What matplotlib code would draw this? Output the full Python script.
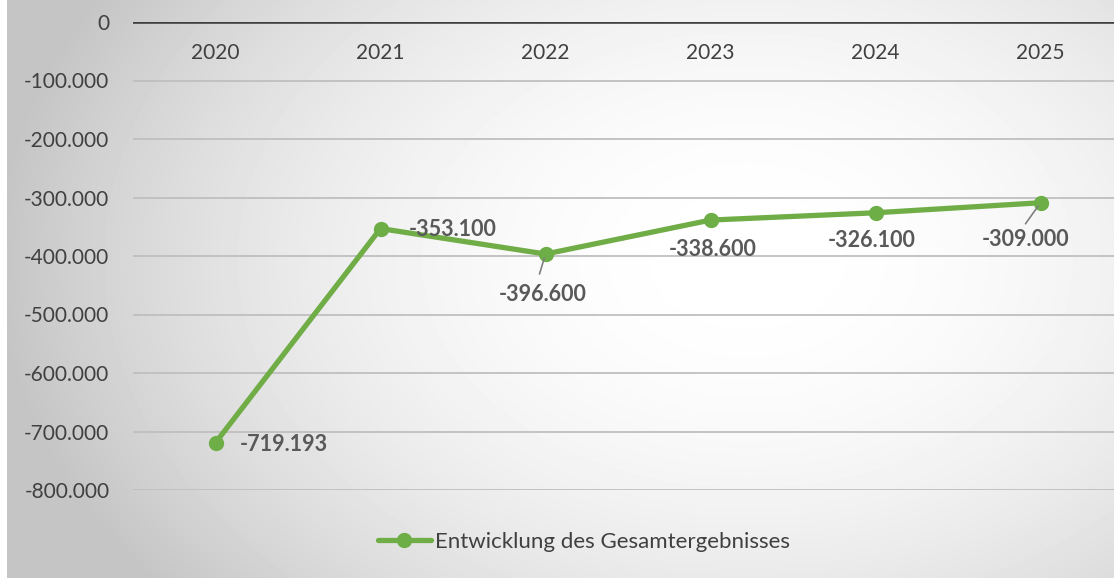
import numpy as np
import matplotlib
matplotlib.use("Agg")
import matplotlib.pyplot as plt
import matplotlib.transforms as mtransforms

# data
years = ["2020", "2021", "2022", "2023", "2024", "2025"]
values = [-719193, -353100, -396600, -338600, -326100, -309000]
y_ticks = [0, -100000, -200000, -300000, -400000, -500000, -600000, -700000, -800000]
series_name = "Entwicklung des Gesamtergebnisses"

# label placement per point: (dx px, dy px, ha, leader end px or None)
label_pos = [
    (24, -2, "left", None),
    (28, -1, "left", None),
    (-3, -40, "center", (-6, -20)),
    (2, -29, "center", None),
    (-4, -28, "center", None),
    (-15, -37, "center", (-15, -21)),
]

def de_fmt(v):
    s = f"{abs(v):,.0f}".replace(",", ".")
    return ("-" if v < 0 else "") + s

green = "#70AD47"
text_col = "#404040"
lbl_col = "#595959"
plt.rcParams["font.family"] = ["Lato", "DejaVu Sans"]
px = 0.72  # points per pixel at dpi 100

fig = plt.figure(figsize=(11.14, 5.79), dpi=100)
fig.patch.set_facecolor("white")

# radial grey background
bg = fig.add_axes([7 / 1114, 1 / 579, 1 - 7 / 1114, 578 / 579])
bg.set_axis_off()
yy, xx = np.mgrid[0:578, 0:1107]
r = np.sqrt(((xx - 740) / 800.0) ** 2 + ((yy - 260) / 560.0) ** 2)
shade = np.clip(1.0 - 0.26 * r ** 2.0, 0.77, 1.0)
bg.imshow(shade, cmap="gray", vmin=0, vmax=1, aspect="auto", interpolation="bilinear")

ax = fig.add_axes([133 / 1114, 89 / 579, 990 / 1114, 468 / 579])
ax.patch.set_alpha(0)
x = np.arange(len(years))
ax.set_xlim(-0.5, len(years) - 0.5)
ax.set_ylim(-800000, 0)

for t in y_ticks:
    if t == 0:
        ax.axhline(t, color="#404040", lw=2.6, zorder=2)
    else:
        ax.axhline(t, color="#BFBFBF", lw=1.3, zorder=1)

ax.plot(x, values, color=green, lw=3.8, marker="o", markersize=10,
        markerfacecolor="#6DAE47", markeredgecolor="#6DAE47", zorder=3,
        label=series_name, solid_capstyle="round")

for s in ax.spines.values():
    s.set_visible(False)
ax.set_xticks([])
ax.set_yticks(y_ticks)
ax.set_yticklabels([de_fmt(t) for t in y_ticks], fontsize=15, color=text_col)
ax.tick_params(axis="y", length=0, pad=17)

# category labels just below the zero line
trans = mtransforms.blended_transform_factory(ax.transData, ax.transAxes)
for i, yr in enumerate(years):
    ax.text(i, 1 - 31 / 468, yr, transform=trans, ha="center", va="center",
            fontsize=15, color=text_col)

# data labels
for i, v in enumerate(values):
    dx, dy, ha, leader = label_pos[i]
    ax.annotate(de_fmt(v), (i, v), xytext=(dx * px, dy * px),
                textcoords="offset points", ha=ha, va="center",
                fontsize=15.5, fontweight="bold", color=lbl_col, zorder=4)
    if leader:
        ax.annotate("", (i, v), xytext=(leader[0] * px, leader[1] * px),
                    textcoords="offset points",
                    arrowprops=dict(arrowstyle="-", color="#7F7F7F", lw=1.2,
                                    shrinkA=0, shrinkB=3), zorder=4)

leg = fig.legend(loc="center", bbox_to_anchor=(584 / 1114, 1 - 542 / 579),
                 frameon=False, fontsize=16, handlelength=2.4,
                 handletextpad=0.2, labelcolor=text_col)

fig.savefig("out.png", dpi=100)
